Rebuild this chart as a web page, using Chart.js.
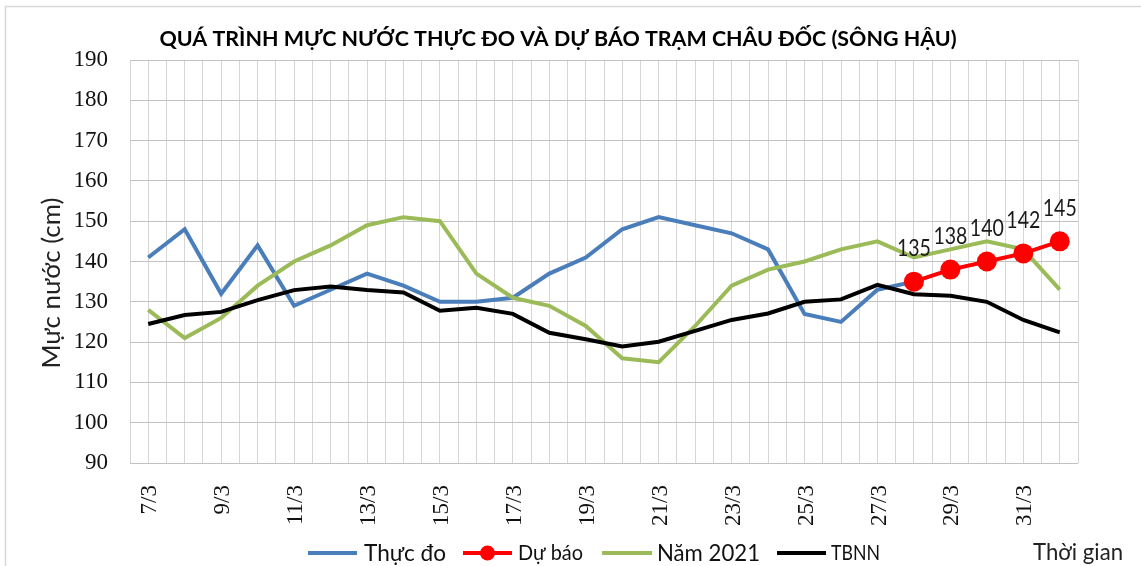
<!DOCTYPE html>
<html>
<head>
<meta charset="utf-8">
<script src="https://cdn.jsdelivr.net/npm/chart.js@4.4.1/dist/chart.umd.min.js"></script>
<style>
  html, body { margin: 0; padding: 0; background: #ffffff; }
  #wrap { width: 1141px; height: 566px; }
</style>
</head>
<body>
<div id="wrap"><canvas id="c" width="1141" height="566"></canvas></div>
<script>
const chartTitle = 'QUÁ TRÌNH MỰC NƯỚC THỰC ĐO VÀ DỰ BÁO TRẠM CHÂU ĐỐC (SÔNG HẬU)';
const yTitle = 'Mực nước (cm)';
const xTitle = 'Thời gian';
const categories = ['7/3','8/3','9/3','10/3','11/3','12/3','13/3','14/3','15/3','16/3','17/3','18/3','19/3',
  '20/3','21/3','22/3','23/3','24/3','25/3','26/3','27/3','28/3','29/3','30/3','31/3','1/4'];
const thucDo = [141,148,132,144,129,133,137,134,130,130,131,137,141,148,151,149,147,143,127,125,133,135,null,null,null,null];
const duBao = [null,null,null,null,null,null,null,null,null,null,null,null,null,null,null,null,null,null,null,null,null,135,138,140,142,145];
const nam2021 = [128,121,126,134,140,144,149,151,150,137,131,129,124,116,115,124,134,138,140,143,145,141,143,145,143,133];
const tbnn = [124.5,126.7,127.5,130.4,132.9,133.8,132.9,132.3,127.8,128.5,127,122.3,120.7,118.9,120.1,122.8,125.5,127.1,130,130.6,134.2,131.9,131.5,130,125.5,122.4];
const yTicks = [90,100,110,120,130,140,150,160,170,180,190];
const seriesNames = ['Thực đo','Dự báo','Năm 2021','TBNN'];

const toPts = arr => arr.map((v, i) => ({ x: i, y: v }));

function fitSize(ctx, text, weight, family, targetW) {
  ctx.font = weight + ' 20px ' + family;
  const w = ctx.measureText(text).width;
  return 20 * targetW / w;
}

// draw text at a given font size, squeezed horizontally to a target width
function squeezeText(ctx, text, x, y, size, targetW, align) {
  ctx.font = size + 'px Lato';
  const w = ctx.measureText(text).width;
  const k = Math.min(1, targetW / w);
  ctx.save();
  ctx.translate(x, y);
  ctx.scale(k, 1);
  ctx.textAlign = align;
  ctx.textBaseline = 'middle';
  ctx.fillText(text, 0, 0);
  ctx.restore();
}

const overlay = {
  id: 'overlay',
  beforeDraw(chart) {
    const ctx = chart.ctx;
    ctx.save();
    ctx.fillStyle = '#ffffff';
    ctx.fillRect(0, 0, chart.width, chart.height);
    ctx.strokeStyle = '#d9d9d9';
    ctx.lineWidth = 1.5;
    ctx.strokeRect(5.5, 6.5, 1200, 600);
    ctx.restore();
  },
  afterDatasetsDraw(chart) {
    const ctx = chart.ctx;
    const meta = chart.getDatasetMeta(1);
    ctx.save();
    ctx.fillStyle = '#1a1a1a';
    meta.data.forEach((pt, i) => {
      if (duBao[i] == null) return;
      squeezeText(ctx, String(duBao[i]), pt.x, pt.y - 33, 23, 34, 'center');
    });
    ctx.restore();
  },
  afterDraw(chart) {
    const ctx = chart.ctx;
    const xs = chart.scales.x;
    ctx.save();
    // Title
    let s = fitSize(ctx, chartTitle, 'bold', 'Lato', 797);
    ctx.font = 'bold ' + s.toFixed(2) + 'px Lato';
    ctx.fillStyle = '#000000';
    ctx.textAlign = 'center';
    ctx.textBaseline = 'middle';
    ctx.fillText(chartTitle, 558, 39);
    // Y title
    s = fitSize(ctx, yTitle, 'normal', 'Lato', 171);
    ctx.save();
    ctx.translate(52, 283);
    ctx.rotate(-Math.PI / 2);
    ctx.font = s.toFixed(2) + 'px Lato';
    ctx.fillStyle = '#222222';
    ctx.fillText(yTitle, 0, 0);
    ctx.restore();
    // X labels (every other, rotated)
    ctx.font = '23px "Liberation Serif"';
    ctx.fillStyle = '#111111';
    categories.forEach((lab, i) => {
      if (i % 2 !== 0) return;
      const x = xs.getPixelForValue(i);
      ctx.save();
      ctx.translate(x + 2, 485);
      ctx.rotate(-Math.PI / 2);
      ctx.textAlign = 'right';
      ctx.textBaseline = 'middle';
      ctx.fillText(lab, 0, 0);
      ctx.restore();
    });
    // Legend
    const ly = 553;
    const items = [
      { x0: 308, x1: 357, tx: 364, tw: 82, fs: 24, color: '#4a7ebb', dot: false },
      { x0: 463, x1: 512, tx: 518, tw: 65, fs: 22, color: '#ff0000', dot: true },
      { x0: 602, x1: 652, tx: 657, tw: 103, fs: 24, color: '#9bbb59', dot: false },
      { x0: 777, x1: 826, tx: 831, tw: 49, fs: 22, color: '#000000', dot: false }
    ];
    items.forEach((it, k) => {
      ctx.strokeStyle = it.color;
      ctx.lineWidth = 4;
      ctx.beginPath();
      ctx.moveTo(it.x0, ly);
      ctx.lineTo(it.x1, ly);
      ctx.stroke();
      if (it.dot) {
        ctx.fillStyle = it.color;
        ctx.beginPath();
        ctx.arc((it.x0 + it.x1) / 2, ly, 7.5, 0, Math.PI * 2);
        ctx.fill();
      }
      ctx.fillStyle = '#111111';
      squeezeText(ctx, seriesNames[k], it.tx, ly, it.fs, it.tw, 'left');
    });
    // X title
    ctx.fillStyle = '#222222';
    squeezeText(ctx, xTitle, 1033, 553, 23, 90, 'left');
    ctx.restore();
  }
};

new Chart(document.getElementById('c'), {
  type: 'line',
  data: {
    datasets: [
      { label: seriesNames[0], data: toPts(thucDo), borderColor: '#4a7ebb', borderWidth: 4, pointRadius: 0, tension: 0, order: 3 },
      { label: seriesNames[1], data: toPts(duBao), borderColor: '#ff0000', backgroundColor: '#ff0000', borderWidth: 4,
        pointRadius: 10, pointBackgroundColor: '#ff0000', pointBorderWidth: 0, tension: 0, order: 0 },
      { label: seriesNames[2], data: toPts(nam2021), borderColor: '#9bbb59', borderWidth: 4, pointRadius: 0, tension: 0, order: 2 },
      { label: seriesNames[3], data: toPts(tbnn), borderColor: '#000000', borderWidth: 4, pointRadius: 0, tension: 0, order: 1 }
    ]
  },
  options: {
    responsive: false,
    animation: false,
    devicePixelRatio: 1,
    layout: { padding: { left: 0, top: 60, right: 63, bottom: 103 } },
    plugins: { legend: { display: false }, title: { display: false }, tooltip: { enabled: false } },
    scales: {
      x: {
        type: 'linear',
        min: -0.5,
        max: categories.length - 0.5,
        ticks: { display: false, stepSize: 0.5, autoSkip: false },
        grid: { color: '#d6d6d6', lineWidth: 1, drawTicks: false },
        border: { display: false },
        afterFit(sc) { sc.height = 0; }
      },
      y: {
        min: yTicks[0],
        max: yTicks[yTicks.length - 1],
        afterBuildTicks(sc) { sc.ticks = yTicks.map(v => ({ value: v })); },
        ticks: { font: { family: '"Liberation Serif"', size: 23 }, color: '#111111', padding: 22 },
        grid: { color: '#c2c2c2', lineWidth: 1, drawTicks: false },
        border: { display: false },
        afterFit(sc) { sc.width = 130; }
      }
    }
  },
  plugins: [overlay]
});
</script>
</body>
</html>
